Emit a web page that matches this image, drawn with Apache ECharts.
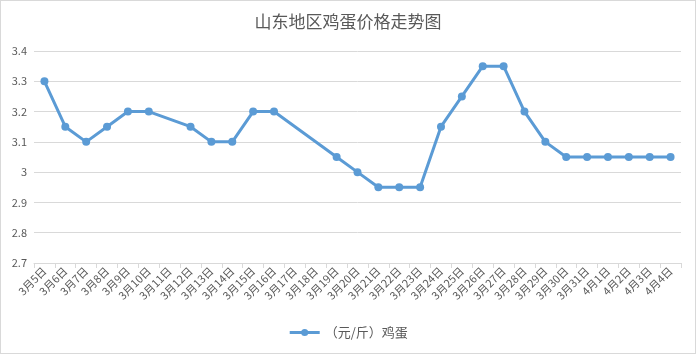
<!DOCTYPE html>
<html>
<head>
<meta charset="utf-8">
<script src="https://cdn.jsdelivr.net/npm/echarts@6/dist/echarts.min.js"></script>
<style>
  html, body { margin: 0; padding: 0; background: #fff; }
  #chart { width: 694px; height: 352px; border: 1px solid #d9d9d9; }
</style>
</head>
<body>
<div id="chart"></div>
<script>
"use strict";

const dates = ['3月5日', '3月6日', '3月7日', '3月8日', '3月9日', '3月10日', '3月11日', '3月12日',
    '3月13日', '3月14日', '3月15日', '3月16日', '3月17日', '3月18日', '3月19日', '3月20日',
    '3月21日', '3月22日', '3月23日', '3月24日', '3月25日', '3月26日', '3月27日', '3月28日',
    '3月29日', '3月30日', '3月31日', '4月1日', '4月2日', '4月3日', '4月4日'];

// '-' = no reading that day, line is bridged across it
const eggPrice = [3.3, 3.15, 3.1, 3.15, 3.2, 3.2, '-', 3.15,
    3.1, 3.1, 3.2, 3.2, '-', '-', 3.05, 3.0,
    2.95, 2.95, 2.95, 3.15, 3.25, 3.35, 3.35, 3.2,
    3.1, 3.05, 3.05, 3.05, 3.05, 3.05, 3.05];

const seriesName = '（元/斤）鸡蛋';

const myChart = echarts.init(document.getElementById('chart'));

const option = {
    animation: false,
    textStyle: { fontFamily: '"Noto Sans CJK SC", "Noto Sans", sans-serif' },
    title: {
        text: '山东地区鸡蛋价格走势图',
        left: 'center',
        top: 7,
        textStyle: { fontSize: 17, fontWeight: 'normal', color: '#595959' }
    },
    legend: {
        data: [seriesName],
        bottom: 9,
        left: 'center',
        itemWidth: 30,
        itemHeight: 9,
        itemGap: 6,
        lineStyle: { width: 3 },
        textStyle: { fontSize: 13, color: '#595959' }
    },
    grid: { left: 33, right: 14, top: 50, bottom: 90 },
    xAxis: {
        type: 'category',
        data: dates,
        boundaryGap: true,
        axisLine: { lineStyle: { color: '#d9d9d9' } },
        axisTick: { show: true, alignWithLabel: false, length: 5, lineStyle: { color: '#d9d9d9' } },
        axisLabel: { interval: 0, rotate: 45, fontSize: 11, color: '#595959', margin: 6 }
    },
    yAxis: {
        type: 'value',
        min: 2.7,
        max: 3.4,
        interval: 0.1,
        axisLine: { show: false },
        axisTick: { show: false },
        axisLabel: {
            fontSize: 11,
            color: '#595959',
            margin: 7,
            formatter: v => String(Math.round(v * 10) / 10)
        },
        splitLine: { lineStyle: { color: '#d9d9d9' } }
    },
    series: [
        {
            name: seriesName,
            type: 'line',
            data: eggPrice,
            connectNulls: true,
            symbol: 'circle',
            symbolSize: 8,
            color: '#5B9BD5',
            lineStyle: { width: 3, color: '#5B9BD5' },
            itemStyle: { color: '#5B9BD5' }
        }
    ]
};

myChart.setOption(option);
</script>
</body>
</html>
